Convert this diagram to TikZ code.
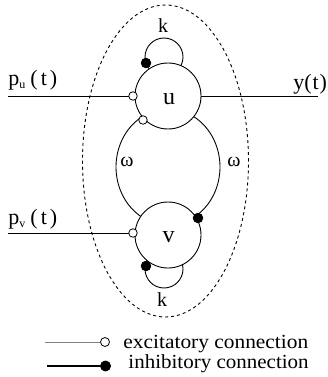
\documentclass[tikz,border=0pt]{standalone}
\usepackage{fontspec}
\setmainfont{Liberation Serif}
\usepackage{graphicx}
\begin{document}
\begin{tikzpicture}[x=1pt,y=-1pt,
  line width=0.9pt,
  unit/.style={circle,draw,fill=white,minimum size=66pt,inner sep=0pt},
  exc/.style={circle,draw,fill=white,minimum size=8.5pt,inner sep=0pt,line width=0.8pt},
  inh/.style={circle,draw,fill=black,minimum size=9.5pt,inner sep=0pt},
  lbl/.style={font=\fontsize{22}{22}\selectfont,inner sep=0pt},
  sym/.style={font=\fontsize{20}{20}\selectfont,inner sep=0pt},
  big/.style={font=\fontsize{24}{24}\selectfont,inner sep=0pt},
  leg/.style={font=\fontsize{20}{20}\selectfont,inner sep=0pt,anchor=base west},
  boundary/.style={dash pattern=on 3pt off 3pt,line width=0.9pt}]
\useasboundingbox (0,0) rectangle (328,377);
% dashed boundary
\draw[boundary] (165.5,161) ellipse [x radius=83pt, y radius=156pt];
% mutual (omega) connections
\draw (168,167) ellipse [x radius=52pt, y radius=58pt];
% self loops (k)
\draw (164,57) circle [radius=19pt];
\draw (164,269) circle [radius=19pt];
% units
\node[unit] (u) at (168,96) {};
\node[unit] (v) at (168,235) {};
\node[big] (ulbl) at (169,99.5) {u};
\node[big] (vlbl) at (168.5,237.5) {v};
% input / output lines
\coordinate (pu0) at (8,96);
\coordinate (pv0) at (8,233);
\coordinate (y1) at (318,96);
\coordinate (cpu) at (133,96);
\coordinate (cpv) at (133,233);
\draw (pu0) -- (cpu);
\draw (pv0) -- (cpv);
\draw (u.east) -- (y1);
% markers
\node[exc] (mpu) at (cpu) {};
\node[exc] (mpv) at (cpv) {};
\node[exc] (mwu) at (143,120) {};
\node[inh] (mwv) at (198,218) {};
\node[inh] (mku) at (146,63) {};
\node[inh] (mkv) at (146,266) {};
% labels
\node[lbl,anchor=west] (plu) at (8,80) {p\raisebox{-3pt}{\fontsize{12}{12}\selectfont u}\kern5pt(\kern3pt t\kern3pt)};
\node[lbl,anchor=west] (plv) at (8,219) {p\raisebox{-3pt}{\fontsize{12}{12}\selectfont v}\kern5pt(\kern3pt t\kern3pt)};
\node[lbl,anchor=east] (ylbl) at (327.5,84) {y(\kern1pt t\kern1pt)};
\node[sym] (k1) at (163,26) {k};
\node[sym] (k2) at (162,299.5) {k};
\node[sym] (w1) at (127,162) {ω};
\node[sym] (w2) at (234,162) {ω};
% legend
\coordinate (l1) at (45,342);
\coordinate (l2) at (47,366);
\node[exc,minimum size=9pt] (le) at (105,342) {};
\node[inh,minimum size=10pt] (li) at (105.5,366) {};
\draw[gray,line width=0.8pt] (l1) -- (le);
\draw[line width=1.1pt] (l2) -- (li);
\node[leg] (t1) at (123,348) {\scalebox{1.07}[1]{excitatory connection}};
\node[leg] (t2) at (128,368) {\scalebox{1.05}[1]{inhibitory connection}};
\end{tikzpicture}
\end{document}
